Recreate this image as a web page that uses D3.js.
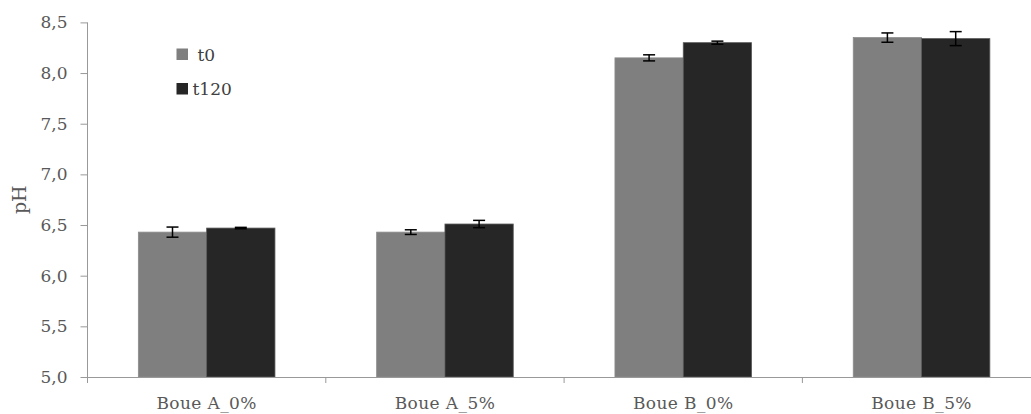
<!DOCTYPE html>
<html><head><meta charset="utf-8">
<script src="https://cdn.jsdelivr.net/npm/d3@7"></script>
<style>
html,body{margin:0;padding:0;background:#fff;}
svg{display:block;}
text{font-family:"DejaVu Serif","Liberation Serif",serif;}
</style></head>
<body>
<svg id="chart" width="1031" height="414"></svg>
<script>
const categories = ["Boue A_0%", "Boue A_5%", "Boue B_0%", "Boue B_5%"];
const seriesNames = ["t0", "t120"];
const t0Values = [6.43, 6.43, 8.15, 8.35];
const t120Values = [6.47, 6.51, 8.30, 8.34];
const t0Errors = [0.05, 0.023, 0.03, 0.046];
const t120Errors = [0.007, 0.036, 0.015, 0.069];
const yTicks = [5.0, 5.5, 6.0, 6.5, 7.0, 7.5, 8.0, 8.5];
const colors = ["#7f7f7f", "#262626"];

(function () {
const svg = d3.select("#chart");
const mLeft = 87.5, mRight = 1040.7, mTop = 22.4, mBottom = 377;

const x0 = d3.scaleBand().domain(categories).range([mLeft, mRight]).paddingInner(0).paddingOuter(0);
const x1 = d3.scaleBand().domain(seriesNames).range([0, 136.6]).padding(0);
const groupOffset = (x0.bandwidth() - 136.6) / 2;
const y = d3.scaleLinear().domain([5, 8.5]).range([mBottom, mTop]);

const fmt = d => d3.format(".1f")(d).replace(".", ",");

const rows = categories.map((c, i) => ({
  cat: c,
  vals: [
    {s: "t0", v: t0Values[i], e: t0Errors[i]},
    {s: "t120", v: t120Values[i], e: t120Errors[i]}
  ]
}));

const g = svg.append("g");
const grp = g.selectAll("g.cat").data(rows).enter().append("g")
  .attr("transform", d => `translate(${x0(d.cat) + groupOffset},0)`);

grp.selectAll("rect").data(d => d.vals).enter().append("rect")
  .attr("x", d => x1(d.s))
  .attr("width", x1.bandwidth())
  .attr("y", d => y(d.v))
  .attr("height", d => y(5) - y(d.v))
  .attr("fill", (d, i) => colors[i])
  .attr("stroke", (d, i) => i === 0 ? "#8c8c8c" : "#5a5a5a")
  .attr("stroke-width", 0.8);

const eb = grp.selectAll("g.err").data(d => d.vals).enter().append("g")
  .attr("stroke", "#000").attr("stroke-width", 1.5);
eb.append("line")
  .attr("x1", d => x1(d.s) + x1.bandwidth() / 2)
  .attr("x2", d => x1(d.s) + x1.bandwidth() / 2)
  .attr("y1", d => y(d.v + d.e))
  .attr("y2", d => y(d.v - d.e));
eb.append("line")
  .attr("x1", d => x1(d.s) + x1.bandwidth() / 2 - 6)
  .attr("x2", d => x1(d.s) + x1.bandwidth() / 2 + 6)
  .attr("y1", d => y(d.v + d.e))
  .attr("y2", d => y(d.v + d.e));
eb.append("line")
  .attr("x1", d => x1(d.s) + x1.bandwidth() / 2 - 6)
  .attr("x2", d => x1(d.s) + x1.bandwidth() / 2 + 6)
  .attr("y1", d => y(d.v - d.e))
  .attr("y2", d => y(d.v - d.e));

const yAxis = svg.append("g")
  .attr("transform", `translate(${mLeft},0)`)
  .call(d3.axisLeft(y).tickValues(yTicks).tickFormat(fmt).tickSize(7).tickPadding(13));
yAxis.select(".domain").attr("stroke", "#999").attr("d", `M0,${mTop}V${mBottom}`);
yAxis.selectAll(".tick line").attr("stroke", "#999");
yAxis.selectAll(".tick text").attr("fill", "#595959").style("font-size", "17px");

const xAxis = svg.append("g")
  .attr("transform", `translate(0,${mBottom})`)
  .call(d3.axisBottom(x0).tickSize(0).tickPadding(20));
xAxis.select(".domain").attr("stroke", "#999");
xAxis.selectAll(".tick text").attr("fill", "#595959").style("font-size", "17px")
  .style("letter-spacing", "0.4px")
  .attr("y", 32).attr("dy", 0);
const bounds = categories.map(c => x0(c));
xAxis.selectAll("line.bt").data(bounds).enter().append("line")
  .attr("class", "bt")
  .attr("x1", d => d).attr("x2", d => d)
  .attr("y1", 0).attr("y2", 6)
  .attr("stroke", "#999");

svg.append("text")
  .attr("transform", `translate(26,${(mTop + mBottom) / 2}) rotate(-90)`)
  .attr("text-anchor", "middle")
  .attr("fill", "#595959")
  .style("font-size", "19px")
  .text("pH");

const legend = svg.append("g");
const legendItems = [
  {name: seriesNames[0], color: colors[0], sx: 176.5, sy: 48.5, tx: 197.5, ty: 60.5},
  {name: seriesNames[1], color: colors[1], sx: 176.5, sy: 83, tx: 192.5, ty: 95}
];
legend.selectAll("rect").data(legendItems).enter().append("rect")
  .attr("x", d => d.sx).attr("y", d => d.sy)
  .attr("width", 11.5).attr("height", 11.5)
  .attr("fill", d => d.color);
legend.selectAll("text").data(legendItems).enter().append("text")
  .attr("x", d => d.tx).attr("y", d => d.ty)
  .attr("fill", "#404040")
  .style("font-size", "17px")
  .text(d => d.name);
})();
</script>
</body></html>
